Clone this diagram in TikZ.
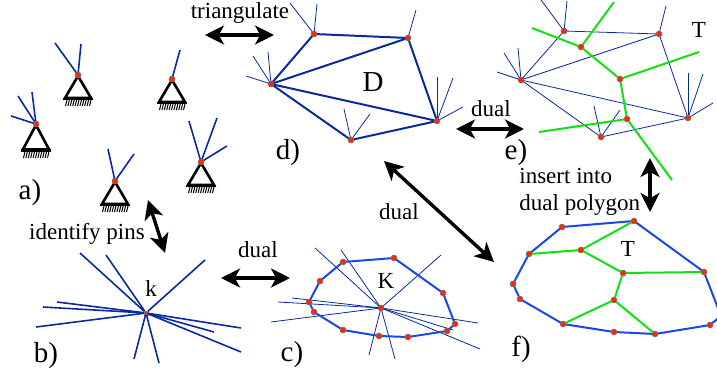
\documentclass[tikz,border=0pt]{standalone}
\usepackage{fontspec}
\setmainfont{Liberation Serif}
\usetikzlibrary{arrows.meta}
\definecolor{pinblue}{HTML}{0A2A9C}
\definecolor{polyblue}{HTML}{1A48E6}
\definecolor{dualgreen}{HTML}{12E012}
\definecolor{dotred}{HTML}{FA2A00}
\begin{document}
\begin{tikzpicture}[x=0.5pt, y=-0.5pt, font=\fontsize{11.5}{13}\selectfont,
  dot/.style={circle, draw=black!55, line width=0.25pt, fill=dotred, minimum size=3pt, inner sep=0pt, outer sep=0pt},
  sq/.style={rectangle, fill=dotred, draw=black!50, line width=0.15pt, minimum size=2pt, inner sep=0pt, outer sep=0pt},
  ray/.style={draw=pinblue, line width=0.8pt},
  hair/.style={draw=pinblue, line width=0.4pt},
  edge/.style={draw=pinblue, line width=1pt},
  poly/.style={draw=polyblue, line width=1pt},
  dualedge/.style={draw=dualgreen, line width=1pt},
  ar/.style={{Stealth[length=9.5pt, width=9.5pt, inset=2.6pt]}-{Stealth[length=9.5pt, width=9.5pt, inset=2.6pt]}, line width=1.7pt},
  bigl/.style={font=\fontsize{14.5}{16}\selectfont},
  pins/.pic={
    \draw[line width=1.3pt, line join=miter] (0,1) -- (-13,23) -- (13,23) -- cycle;
    \draw[line width=1.3pt] (-15,24) -- (15,24);
    \foreach \i in {-12,-9.6,...,13} \draw[line width=0.5pt] (\i+1,25) -- (\i-0.5,31);
  }]
\useasboundingbox (0,0) rectangle (717,374);
% a) pinned bars
\path (36,124) pic[yscale=1.1] {pins} node[dot] (pa) {};
\path (78,75) pic {pins} node[dot] (pb) {};
\path (172,79) pic {pins} node[dot] (pc) {};
\path (115,181) pic {pins} node[dot] (pd) {};
\path (201,162) pic {pins} node[dot] (pe) {};
\coordinate (pa1) at (11,116); \coordinate (pa2) at (18,96); \coordinate (pa3) at (32,92);
\coordinate (pb1) at (55,43); \coordinate (pb2) at (81,44); \coordinate (pc1) at (180,50);
\coordinate (pd1) at (108,149); \coordinate (pd2) at (134,154);
\coordinate (pe1) at (189,121); \coordinate (pe2) at (217,118); \coordinate (pe3) at (227,146);
\draw[ray](pa)--(pa1); \draw[ray](pa)--(pa2); \draw[ray](pa)--(pa3);
\draw[ray](pb)--(pb1); \draw[ray](pb)--(pb2); \draw[ray](pc)--(pc1);
\draw[ray](pd)--(pd1); \draw[ray](pd)--(pd2);
\draw[ray](pe)--(pe1); \draw[ray](pe)--(pe2); \draw[ray](pe)--(pe3);
\node[bigl] (la) at (30,193) {a)};
% b) one pin
\node[sq] (k) at (146,313) {};
\foreach \n/\p in {1/{80,253}, 2/{106,255}, 3/{205,260}, 4/{57,302}, 5/{43,307}, 6/{36,327},
    7/{214,332}, 8/{241,328}, 9/{241,352}, 10/{134,359}, 11/{159,363}}
  {\coordinate (k\n) at (\p); \draw[ray](k)--(k\n);}
\node (lk) at (151,289) {k};
\node[bigl] (lb) at (46,356) {b)};
% c) dual polygon
\node[dot] (kc) at (381,308) {};
\foreach \n/\p in {1/{315,248}, 2/{341,250}, 3/{441,255}, 4/{292,298}, 5/{278,302}, 6/{271,322},
    7/{478,323}, 8/{453,330}, 9/{480,349}, 10/{369,355}, 11/{395,359}}
  {\coordinate (kc\n) at (\p); \draw[hair](kc)--(kc\n);}
\node[dot] (c1) at (343,262) {}; \node[dot] (c2) at (394,258) {}; \node[dot] (c3) at (443,293) {};
\node[dot] (c4) at (455,324) {}; \node[dot] (c5) at (447,331) {}; \node[dot] (c6) at (408,337) {};
\node[dot] (c7) at (379,336) {}; \node[dot] (c8) at (343,330) {}; \node[dot] (c9) at (314,312) {};
\node[dot] (c10) at (309,302) {}; \node[dot] (c11) at (320,281) {};
\draw[poly] (c1)--(c2)--(c3)--(c4)--(c5)--(c6)--(c7)--(c8)--(c9)--(c10)--(c11)--(c1);
\node (lK) at (386,281) {K};
\node[bigl] (lc) at (292,355) {c)};
% d) triangulation
\node[dot] (d1) at (314,34) {}; \node[dot] (d2) at (408,38) {}; \node[dot] (d3) at (271,84) {};
\node[dot] (d4) at (437,121) {}; \node[dot] (d5) at (351,140) {};
\draw[edge](d1)--(d2); \draw[edge](d1)--(d3); \draw[edge](d2)--(d3); \draw[edge](d2)--(d4);
\draw[edge](d3)--(d4); \draw[edge](d3)--(d5); \draw[edge](d5)--(d4);
\foreach \a/\n/\p in {d1/1/{290,3}, d1/2/{317,4}, d2/1/{416,10}, d3/1/{253,56}, d3/2/{268,52}, d3/3/{246,76},
    d4/1/{437,77}, d4/2/{453,78}, d4/3/{463,107}, d5/1/{344,109}, d5/2/{370,114}}
  {\coordinate (\a\n) at (\p); \draw[hair](\a)--(\a\n);}
\node[bigl] (lD) at (373,82) {D};
\node[bigl] (ld) at (288,153) {d)};
% e) triangulation with green tree
\node[dot] (e1) at (564,31) {}; \node[dot] (e2) at (659,34) {}; \node[dot] (e3) at (521,80) {};
\node[dot] (e4) at (688,118) {}; \node[dot] (e5) at (601,137) {};
\draw[hair](e1)--(e2); \draw[hair](e1)--(e3); \draw[hair](e2)--(e3); \draw[hair](e2)--(e4);
\draw[hair](e3)--(e4); \draw[hair](e3)--(e5); \draw[hair](e5)--(e4);
\foreach \a/\n/\p in {e1/1/{541,0}, e1/2/{567,1}, e2/1/{666,6}, e3/1/{504,53}, e3/2/{518,48}, e3/3/{497,72},
    e4/1/{688,73}, e4/2/{703,74}, e4/3/{713,103}, e5/1/{594,106}, e5/2/{620,110}}
  {\coordinate (\a\n) at (\p); \draw[hair](\a)--(\a\n);}
\node[dot] (g1) at (581,47) {}; \node[dot] (g2) at (620,79) {}; \node[dot] (g3) at (627,119) {};
\coordinate (g1a) at (532,28); \coordinate (g1b) at (614,2); \coordinate (g2a) at (699,52);
\coordinate (g3a) at (539,132); \coordinate (g3b) at (672,180);
\draw[dualedge](g1)--(g1a); \draw[dualedge](g1)--(g1b); \draw[dualedge](g1)--(g2); \draw[dualedge](g2)--(g2a);
\draw[dualedge](g2)--(g3); \draw[dualedge](g3)--(g3a); \draw[dualedge](g3)--(g3b);
\node (lTe) at (699,30) {T};
\node[bigl] (le) at (516,153) {e)};
% f) tree inside polygon
\node[dot] (f1) at (562,227) {}; \node[dot] (f2) at (634,221) {}; \node[dot] (f3) at (704,272) {};
\coordinate (f4) at (721,316); \node[dot] (f5) at (710,325) {}; \node[dot] (f6) at (655,334) {};
\node[dot] (f7) at (614,332) {}; \node[dot] (f8) at (563,324) {}; \node[dot] (f9) at (520,299) {};
\node[dot] (f10) at (513,284) {}; \node[dot] (f11) at (529,254) {};
\draw[poly] (f1)--(f2)--(f3)--(f4)--(f5)--(f6)--(f7)--(f8)--(f9)--(f10)--(f11)--(f1);
\node[dot] (h1) at (581,250) {}; \node[dot] (h2) at (623,273) {}; \node[dot] (h3) at (614,300) {};
\draw[dualedge](f11)--(h1); \draw[dualedge](h1)--(f2); \draw[dualedge](h1)--(h2); \draw[dualedge](h2)--(f3);
\draw[dualedge](h2)--(h3); \draw[dualedge](h3)--(f8); \draw[dualedge](h3)--(f6);
\node (lTf) at (628,249) {T};
\node[bigl] (lf) at (521,349) {f)};
% arrows between the steps
\coordinate (ta) at (205,35); \coordinate (tb) at (274,35);
\coordinate (ia) at (148,200); \coordinate (ib) at (165,253);
\coordinate (da) at (221,278); \coordinate (db) at (290,278);
\coordinate (ea) at (456,129); \coordinate (eb) at (524,129);
\coordinate (ma) at (384,161); \coordinate (mb) at (494,262);
\coordinate (va) at (650,158); \coordinate (vb) at (650,212);
\draw[ar](ta)--(tb); \draw[ar](ia)--(ib); \draw[ar](da)--(db);
\draw[ar](ea)--(eb); \draw[ar](ma)--(mb); \draw[ar](va)--(vb);
\node (ltri) at (240,13) {triangulate};
\node (lid) at (87,234) {identify pins};
\node (ldb) at (258,250) {dual};
\node (lde) at (491,109) {dual};
\node (ldm) at (399,212) {dual};
\node[anchor=west, inner sep=0pt] (lins) at (519,176) {insert into};
\node[anchor=west, inner sep=0pt] (lpol) at (519,205) {dual polygon};
\end{tikzpicture}
\end{document}
